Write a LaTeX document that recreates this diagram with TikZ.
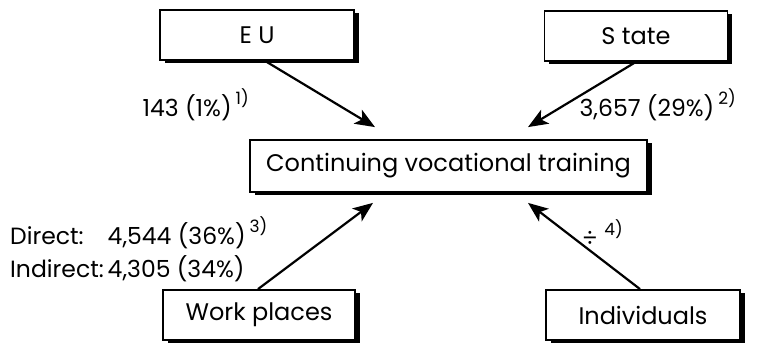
\documentclass[tikz,border=0pt]{standalone}
\usepackage{fontspec}
\setmainfont{Poppins}
\usetikzlibrary{arrows.meta,positioning,calc,shadows}
\newcommand{\fnmark}[1]{\,\raisebox{0.5em}{\fontsize{17}{17}\selectfont #1}}

\begin{document}
\begin{tikzpicture}[x=1pt,y=1pt,
    box/.style={draw, line width=1.8pt, fill=white, minimum height=50pt, inner sep=0pt,
      font=\fontsize{24}{28}\selectfont,
      drop shadow={shadow xshift=4.5pt, shadow yshift=-3.5pt, fill=black, opacity=1}},
    flow/.style={-{Stealth[length=20pt,width=16pt,inset=5pt]}, line width=2.2pt},
    lbl/.style={inner sep=0pt, font=\fontsize{23.5}{33}\selectfont}]
  \useasboundingbox (0,0) rectangle (761,345);

  % Define nodes
  \node[box, minimum width=194pt] (eu) at (257,310) {E U};
  \node[box, minimum width=183pt] (state) at (636,309) {S tate};
  \node[box, minimum width=397pt, minimum height=52pt] (center) at (448.5,179) {Continuing vocational training};
  \node[box, minimum width=192pt] (work) at (259,30) {Work places};
  \node[box, minimum width=194pt] (indiv) at (643,30) {Individuals};

  % Arrow ends
  \coordinate (euEnd) at ($(center.north)+(-73.5,12)$);
  \coordinate (stateEnd) at ($(center.north)+(79.5,12)$);
  \coordinate (workEnd) at ($(center.south)+(-75.5,-10)$);
  \coordinate (indivEnd) at ($(center.south)+(79.5,-10)$);

  % Draw edges
  \draw[flow] ($(eu.south)+(8,0)$) -- (euEnd);
  \draw[flow] (state.south) -- (stateEnd);
  \draw[flow] ($(work.north)+(-1,0)$) -- (workEnd);
  \draw[flow] ($(indiv.north)+(-3,0)$) -- (indivEnd);

  % Labels
  \node[lbl, anchor=east] (euVal) at (249,240) {143 (1\%)\fnmark{1)}};
  \node[lbl, anchor=east] (stateVal) at (736,240) {3,657 (29\%)\fnmark{2)}};
  \node[lbl, anchor=west] (workVal) at (10,93) {%
    \begin{tabular}{@{}l@{\,}l@{}}
      Direct: & 4,544 (36\%)\fnmark{3)}\\
      Indirect: & 4,305 (34\%)
    \end{tabular}};
  \node[lbl, anchor=west] (indivVal) at (582,112) {÷\fnmark{\,4)}};
\end{tikzpicture}
\end{document}
